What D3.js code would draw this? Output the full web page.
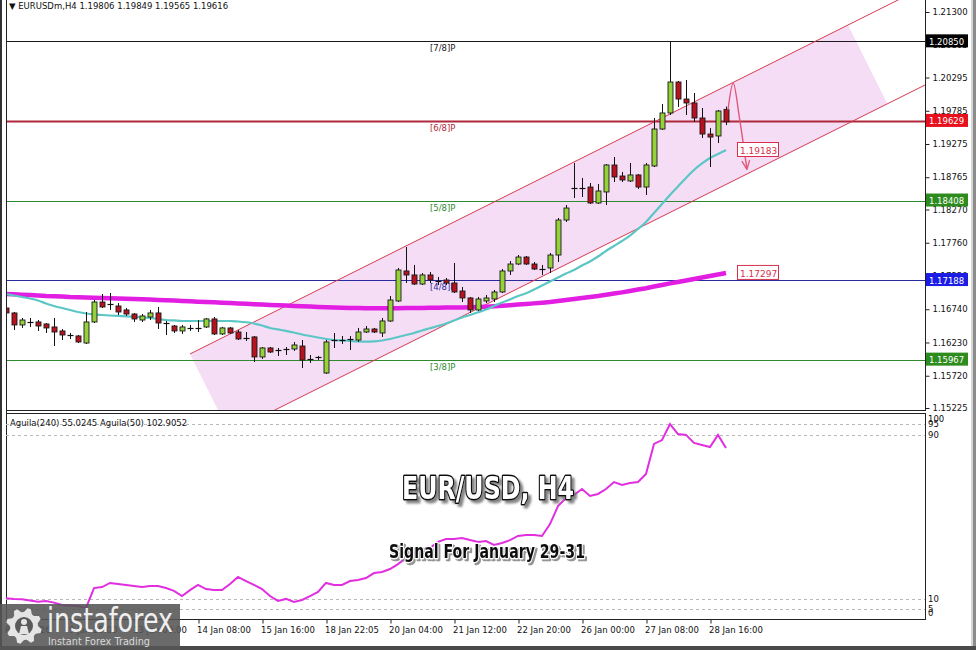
<!DOCTYPE html>
<html>
<head>
<meta charset="utf-8">
<script src="https://cdn.jsdelivr.net/npm/d3@7"></script>
<style>
  body { margin: 0; background: #fff; }
  svg { display: block; }
  text { font-family: "DejaVu Sans", "Liberation Sans", sans-serif; }
</style>
</head>
<body>
<svg id="chart" width="976" height="650"></svg>
<script>
// EURUSDm H4 candles, 8 Jan 12:00 .. 29 Jan 00:00 (one entry per bar)
const opens = [
  1.16759,1.16683,1.16499,1.16529,1.16545,1.16514,1.16468,1.16407,1.16338,1.16330,
  1.16222,1.16545,1.16851,1.16813,1.16790,1.16729,1.16667,1.16575,1.16621,1.16683,
  1.16529,1.16483,1.16407,1.16453,1.16445,1.16468,1.16591,1.16361,1.16453,1.16391,
  1.16299,1.16315,1.16008,1.16146,1.16115,1.16123,1.16130,1.16176,1.15977,1.15977,
  1.15762,1.16253,1.16268,1.16276,1.16268,1.16391,1.16437,1.16376,1.16560,1.16867,
  1.17327,1.17266,1.17127,1.17266,1.17173,1.17189,1.17143,1.17020,1.16913,1.16729,
  1.16867,1.16897,1.17005,1.17327,1.17434,1.17541,1.17434,1.17357,1.17373,1.17572,
  1.18109,1.18600,1.18592,1.18615,1.18370,1.18539,1.18953,1.18784,1.18708,1.18800,
  1.18615,1.18938,1.19505,1.19751,1.20226,1.19965,1.19904,1.19674,1.19428,1.19398,
  1.19806];
const highs = [
  1.16805,1.16698,1.16606,1.16606,1.16575,1.16529,1.16606,1.16437,1.16376,1.16345,
  1.16698,1.16882,1.16974,1.16989,1.16836,1.16759,1.16683,1.16667,1.16729,1.16775,
  1.16560,1.16499,1.16499,1.16499,1.16575,1.16606,1.16621,1.16468,1.16468,1.16422,
  1.16391,1.16330,1.16161,1.16161,1.16146,1.16161,1.16238,1.16268,1.16038,1.16023,
  1.16268,1.16376,1.16330,1.16330,1.16453,1.16483,1.16453,1.16606,1.16943,1.17373,
  1.17695,1.17419,1.17296,1.17311,1.17235,1.17219,1.17450,1.17081,1.16928,1.16928,
  1.16959,1.17035,1.17357,1.17480,1.17572,1.17557,1.17465,1.17419,1.17603,1.18140,
  1.18339,1.18984,1.18754,1.18677,1.18661,1.18968,1.19076,1.18846,1.18984,1.18815,
  1.18984,1.19674,1.19889,1.20850,1.20241,1.20257,1.20057,1.19827,1.19521,1.19797,
  1.19849];
const lows = [
  1.16637,1.16422,1.16453,1.16468,1.16407,1.16376,1.16176,1.16268,1.16284,1.16222,
  1.16207,1.16529,1.16759,1.16729,1.16652,1.16637,1.16545,1.16545,1.16575,1.16437,
  1.16345,1.16376,1.16361,1.16407,1.16391,1.16453,1.16345,1.16345,1.16361,1.16268,
  1.16253,1.15931,1.15977,1.16069,1.16023,1.16038,1.16100,1.15839,1.15916,1.15962,
  1.15747,1.16146,1.16207,1.16115,1.16238,1.16376,1.16376,1.16315,1.16545,1.16851,
  1.17143,1.17112,1.17112,1.17143,1.17112,1.17112,1.16989,1.16851,1.16683,1.16713,
  1.16836,1.16851,1.16989,1.17266,1.17419,1.17419,1.17342,1.17266,1.17296,1.17465,
  1.18079,1.18447,1.18462,1.18355,1.18355,1.18339,1.18692,1.18692,1.18692,1.18585,
  1.18493,1.18922,1.19490,1.19720,1.19843,1.19720,1.19613,1.19367,1.18922,1.19290,
  1.19565];
const closes = [
  1.16683,1.16499,1.16575,1.16545,1.16483,1.16453,1.16391,1.16345,1.16322,1.16238,
  1.16545,1.16851,1.16775,1.16798,1.16698,1.16667,1.16591,1.16637,1.16683,1.16529,
  1.16521,1.16407,1.16468,1.16445,1.16453,1.16591,1.16361,1.16453,1.16376,1.16284,
  1.16291,1.16008,1.16146,1.16084,1.16107,1.16130,1.16192,1.15962,1.15969,1.16000,
  1.16238,1.16261,1.16261,1.16284,1.16391,1.16437,1.16391,1.16560,1.16882,1.17342,
  1.17266,1.17127,1.17266,1.17189,1.17166,1.17143,1.17005,1.16913,1.16729,1.16897,
  1.16913,1.17005,1.17327,1.17434,1.17541,1.17434,1.17357,1.17350,1.17572,1.18109,
  1.18293,1.18592,1.18600,1.18370,1.18554,1.18953,1.18769,1.18723,1.18800,1.18615,
  1.18953,1.19505,1.19751,1.20226,1.19965,1.19904,1.19674,1.19428,1.19382,1.19781,
  1.19616];

// Slow moving average (thick magenta) and fast moving average (turquoise)
const maSlow = [
  1.16974,1.16969,1.16963,1.16959,1.16951,1.16943,1.16939,1.16934,1.16928,1.16925,
  1.16920,1.16917,1.16913,1.16910,1.16905,1.16902,1.16897,1.16893,1.16888,1.16882,
  1.16877,1.16873,1.16867,1.16862,1.16856,1.16851,1.16847,1.16841,1.16836,1.16830,
  1.16824,1.16818,1.16811,1.16805,1.16801,1.16796,1.16790,1.16785,1.16781,1.16775,
  1.16770,1.16765,1.16762,1.16759,1.16758,1.16756,1.16755,1.16755,1.16755,1.16756,
  1.16758,1.16759,1.16761,1.16762,1.16764,1.16765,1.16767,1.16768,1.16772,1.16775,
  1.16779,1.16785,1.16793,1.16802,1.16811,1.16821,1.16830,1.16841,1.16851,1.16867,
  1.16882,1.16897,1.16913,1.16928,1.16943,1.16962,1.16980,1.16999,1.17020,1.17042,
  1.17063,1.17088,1.17112,1.17137,1.17158,1.17181,1.17204,1.17227,1.17250,1.17273,
  1.17297];
const maFast = [
  1.16974,1.16951,1.16928,1.16905,1.16874,1.16828,1.16790,1.16759,1.16729,1.16698,
  1.16675,1.16660,1.16652,1.16644,1.16637,1.16632,1.16626,1.16617,1.16606,1.16591,
  1.16575,1.16568,1.16560,1.16560,1.16560,1.16560,1.16560,1.16560,1.16560,1.16552,
  1.16540,1.16521,1.16491,1.16453,1.16430,1.16407,1.16383,1.16353,1.16330,1.16307,
  1.16284,1.16268,1.16261,1.16253,1.16245,1.16242,1.16248,1.16261,1.16284,1.16315,
  1.16345,1.16376,1.16414,1.16448,1.16483,1.16521,1.16568,1.16613,1.16652,1.16693,
  1.16736,1.16790,1.16844,1.16890,1.16943,1.16985,1.17043,1.17104,1.17166,1.17227,
  1.17289,1.17342,1.17411,1.17473,1.17549,1.17634,1.17710,1.17787,1.17871,1.17971,
  1.18079,1.18217,1.18355,1.18493,1.18623,1.18754,1.18876,1.18976,1.19060,1.19122,
  1.19183];

// Oscillator in the lower window (0..100)
const aguila = [
  10.1,9.8,9.6,9.0,8.4,8.8,8.0,6.8,6.6,6.3,
  5.4,15.1,15.6,17.6,17.1,16.6,16.1,15.6,16.1,16.1,
  15.1,13.7,11.2,14.1,16.6,14.6,14.1,14.1,17.1,20.5,
  18.5,16.6,14.6,11.2,8.8,9.8,8.3,9.3,11.2,13.2,
  17.6,16.6,16.6,18.5,19.0,20.0,22.4,22.9,24.4,26.8,
  29.8,32.2,34.1,34.6,37.6,39.0,39.0,39.5,38.5,37.6,
  38.0,36.1,37.1,38.5,40.5,41.0,41.0,40.5,46.3,55.1,
  59.0,60.5,63.4,60.0,61.0,63.4,66.8,65.4,66.3,66.8,
  70.7,85.4,87.3,95.1,90.2,89.8,85.9,84.9,83.9,89.8,
  83.4];

// Murrey math levels
const levelNames  = ["[7/8]P", "[6/8]P", "[5/8]P", "[4/8]P", "[3/8]P"];
const levelValues = [1.20850, 1.19629, 1.18408, 1.17188, 1.15967];
const levelColors = ["#1a1a1a", "#b0283c", "#2f8a2f", "#2a2aa0", "#2f8a2f"];
const levelBadge  = ["#000000", "#e8101c", "#2e8b1e", "#1c1ce6", "#2e8b1e"];

// Rising channel: two anchors of the upper line, price offset of the lower line
const channelUpper = [[23, 1.16054], [90, 1.20165]];
const channelOffset = 0.01511;
const channelFillEnd = 105.25;

// Projected path for the next bars (start, top, bend, target)
const arrowPath = [[90.25, 1.19797], [90.9, 1.20211], [91.7, 1.19660], [92.6, 1.18900]];

// Axes
const priceTicks = [1.21300, 1.20805, 1.20295, 1.19785, 1.19275, 1.18765, 1.18270,
                    1.17760, 1.17250, 1.16740, 1.16230, 1.15720, 1.15225];
const timeTickIdx = [0, 8, 16, 24, 32, 40, 48, 56, 64, 72, 80, 88];
const timeTickLabels = ["8 Jan 2026", "9 Jan 20:00", "13 Jan 00:00", "14 Jan 08:00",
  "15 Jan 16:00", "18 Jan 22:05", "20 Jan 04:00", "21 Jan 12:00", "22 Jan 20:00",
  "26 Jan 00:00", "27 Jan 08:00", "28 Jan 16:00"];
const oscLevels = [95, 90, 10, 5];
const oscLabels = [100, 95, 90, 10, 5, 0];

const svg = d3.select("#chart");
const plotL = 6, plotR = 925, mainB = 410, indT = 413, indB = 619;

const x = d3.scaleLinear().domain([0, 90]).range([6, 726]);
const y = d3.scaleLinear().domain([1.15225, 1.21300]).range([408, 12]);
const yi = d3.scaleLinear().domain([0, 100]).range([619, 414]);

svg.append("rect").attr("width", 976).attr("height", 650).attr("fill", "#fff");

const defs = svg.append("defs");
defs.append("clipPath").attr("id", "clipMain")
  .append("rect").attr("x", plotL).attr("y", 0).attr("width", plotR - plotL).attr("height", mainB);
defs.append("clipPath").attr("id", "clipInd")
  .append("rect").attr("x", plotL).attr("y", indT).attr("width", plotR - plotL).attr("height", indB - indT);
defs.append("marker").attr("id", "arrowHead").attr("viewBox", "0 0 10 10")
  .attr("refX", 8).attr("refY", 5).attr("markerWidth", 7).attr("markerHeight", 7)
  .attr("orient", "auto-start-reverse")
  .append("path").attr("d", "M0,1 L9,5 L0,9").attr("fill", "none")
  .attr("stroke", "#e0587a").attr("stroke-width", 1.4);
defs.append("filter").attr("id", "shadowBig").attr("x", "-10%").attr("y", "-30%")
  .attr("width", "130%").attr("height", "180%")
  .append("feDropShadow").attr("dx", 3).attr("dy", 3).attr("stdDeviation", 0.8)
  .attr("flood-color", "#6f6f6f").attr("flood-opacity", 0.85);
defs.append("filter").attr("id", "shadowSmall").attr("x", "-10%").attr("y", "-30%")
  .attr("width", "130%").attr("height", "180%")
  .append("feDropShadow").attr("dx", 2).attr("dy", 2).attr("stdDeviation", 0.7)
  .attr("flood-color", "#7a7a7a").attr("flood-opacity", 0.8);

const main = svg.append("g").attr("clip-path", "url(#clipMain)");

// ---- channel fill (parallelogram with ends perpendicular to the channel)
const uA = [x(channelUpper[0][0]), y(channelUpper[0][1])];
const uB = [x(channelUpper[1][0]), y(channelUpper[1][1])];
const slope = (uB[1] - uA[1]) / (uB[0] - uA[0]);
const upperAt = px => uA[1] + slope * (px - uA[0]);
const gap = y(channelUpper[0][1] - channelOffset) - uA[1];
const perp = [-slope * gap / (1 + slope * slope), gap / (1 + slope * slope)];
const fEnd = [x(channelFillEnd), upperAt(x(channelFillEnd))];
main.append("path")
  .attr("d", d3.line()([uA, fEnd, [fEnd[0] + perp[0], fEnd[1] + perp[1]], [uA[0] + perp[0], uA[1] + perp[1]]]) + "Z")
  .attr("fill", "#f5def5");

// ---- level lines
levelValues.forEach((v, i) => {
  main.append("line").attr("x1", plotL).attr("x2", plotR)
    .attr("y1", Math.round(y(v)) + 0.5).attr("y2", Math.round(y(v)) + 0.5)
    .attr("stroke", levelColors[i]).attr("stroke-width", i === 1 ? 2 : 1);
  main.append("text").attr("x", 430).attr("y", y(v) + 10)
    .attr("font-size", 8.5).attr("fill", levelColors[i]).text(levelNames[i]);
});

// ---- channel lines (rays to the right)
const rayEnd = plotR + 40;
main.append("line").attr("x1", uA[0]).attr("y1", uA[1]).attr("x2", rayEnd).attr("y2", upperAt(rayEnd))
  .attr("stroke", "#d23a4e").attr("stroke-width", 1);
main.append("line").attr("x1", uA[0]).attr("y1", uA[1] + gap).attr("x2", rayEnd).attr("y2", upperAt(rayEnd) + gap)
  .attr("stroke", "#d23a4e").attr("stroke-width", 1);

// ---- moving averages
const idx = d3.range(opens.length);
main.append("path").datum(idx)
  .attr("d", d3.line().x(i => x(i)).y(i => y(maSlow[i])))
  .attr("fill", "none").attr("stroke", "#e21ee2").attr("stroke-width", 4.5);
main.append("path").datum(idx)
  .attr("d", d3.line().x(i => x(i)).y(i => y(maFast[i])).curve(d3.curveMonotoneX))
  .attr("fill", "none").attr("stroke", "#5cc6c6").attr("stroke-width", 2.2);

// ---- candles
const bodyW = 5;
const cg = main.append("g");
idx.forEach(i => {
  const cx = Math.round(x(i)) + 0.5;
  const up = closes[i] >= opens[i];
  cg.append("line").attr("x1", cx).attr("x2", cx)
    .attr("y1", y(highs[i])).attr("y2", y(lows[i]))
    .attr("stroke", "#111").attr("stroke-width", 1);
  const top = y(Math.max(opens[i], closes[i]));
  const bot = y(Math.min(opens[i], closes[i]));
  if (bot - top < 1.6) {
    cg.append("line").attr("x1", cx - 3).attr("x2", cx + 3)
      .attr("y1", Math.round(top) + 0.5).attr("y2", Math.round(top) + 0.5)
      .attr("stroke", "#111").attr("stroke-width", 1.2);
  } else {
    cg.append("rect").attr("x", cx - bodyW / 2).attr("y", top)
      .attr("width", bodyW).attr("height", bot - top)
      .attr("fill", up ? "#94d13a" : "#b8121f")
      .attr("stroke", "#1a1a1a").attr("stroke-width", 0.9);
  }
});

// ---- projected path
main.append("path").datum(arrowPath)
  .attr("d", d3.line().x(d => x(d[0])).y(d => y(d[1])).curve(d3.curveCatmullRom.alpha(0.5)))
  .attr("fill", "none").attr("stroke", "#e0587a").attr("stroke-width", 1.4)
  .attr("marker-end", "url(#arrowHead)");

// ---- value tags at the end of the averages
[[maFast[90], "#d8304c"], [maSlow[90], "#d8304c"]].forEach(([v, c]) => {
  const ty = y(v);
  main.append("rect").attr("x", 737.5).attr("y", ty - 7.5).attr("width", 41).attr("height", 14)
    .attr("fill", "#fff").attr("stroke", c).attr("stroke-width", 1);
  main.append("text").attr("x", 740).attr("y", ty + 4).attr("font-size", 9)
    .attr("fill", c).text(d3.format(".5f")(v));
});

// ---- header
svg.append("text").attr("x", 9).attr("y", 9).attr("font-size", 8.5).attr("fill", "#111")
  .text("\u25BC EURUSDm,H4  1.19806 1.19849 1.19565 1.19616");

// ---- frames
const frame = svg.append("g").attr("stroke", "#222").attr("fill", "none");
frame.append("line").attr("x1", plotL + 0.5).attr("x2", plotL + 0.5).attr("y1", 0).attr("y2", indB);
frame.append("line").attr("x1", plotR + 0.5).attr("x2", plotR + 0.5).attr("y1", 0).attr("y2", mainB);
frame.append("line").attr("x1", plotL).attr("x2", plotR + 1).attr("y1", mainB + 0.5).attr("y2", mainB + 0.5);
frame.append("rect").attr("x", plotL + 0.5).attr("y", indT + 0.5).attr("width", plotR - plotL).attr("height", indB - indT);

// ---- price axis
const yAxis = d3.axisRight(y).tickValues(priceTicks).tickFormat(d3.format(".5f")).tickSize(4).tickPadding(3);
const ya = svg.append("g").attr("transform", `translate(${plotR + 0.5},0)`).call(yAxis);
ya.select(".domain").remove();
ya.selectAll("line").attr("stroke", "#222");
ya.selectAll("text").attr("font-size", 8.5).attr("fill", "#111")
  .attr("font-family", "DejaVu Sans, sans-serif");

// level badges on the price axis
levelValues.forEach((v, i) => {
  const by = y(v);
  svg.append("rect").attr("x", 926).attr("y", by - 7).attr("width", 42).attr("height", 13)
    .attr("fill", levelBadge[i]);
  svg.append("text").attr("x", 929).attr("y", by + 3.5).attr("font-size", 8.5)
    .attr("fill", "#fff").text(d3.format(".5f")(v));
});

// ---- oscillator window
const ind = svg.append("g").attr("clip-path", "url(#clipInd)");
oscLevels.forEach(v => {
  ind.append("line").attr("x1", plotL).attr("x2", plotR)
    .attr("y1", Math.round(yi(v)) + 0.5).attr("y2", Math.round(yi(v)) + 0.5)
    .attr("stroke", "#b8b8b8").attr("stroke-dasharray", "3,3");
});
ind.append("path").datum(idx)
  .attr("d", d3.line().x(i => x(i)).y(i => yi(aguila[i])))
  .attr("fill", "none").attr("stroke", "#e02ee0").attr("stroke-width", 2);
svg.append("text").attr("x", 10).attr("y", 426).attr("font-size", 8.5).attr("fill", "#111")
  .text("Aguila(240) 55.0245  Aguila(50) 102.9052");
oscLabels.forEach(v => {
  const ly = Math.min(Math.max(yi(v), 419), 613);
  svg.append("text").attr("x", 928).attr("y", ly + 3).attr("font-size", 8.5)
    .attr("font-family", "Liberation Serif, serif").attr("fill", "#111").text(v);
});

// ---- time axis
const xAxis = d3.axisBottom(x).tickValues(timeTickIdx)
  .tickFormat((d, i) => timeTickLabels[i]).tickSize(4).tickPadding(3);
const xa = svg.append("g").attr("transform", `translate(0.5,${indB + 0.5})`).call(xAxis);
xa.select(".domain").remove();
xa.selectAll("line").attr("stroke", "#222");
xa.selectAll("text").attr("text-anchor", "start").attr("dx", -2).attr("font-size", 8.5)
  .attr("fill", "#111").attr("font-family", "DejaVu Sans, sans-serif");

// ---- titles (outlined text with a drop shadow)
function outlined(txt, cx, by, size, len, fill, stroke, sw, filterId) {
  svg.append("text").attr("x", cx).attr("y", by).attr("text-anchor", "middle")
    .attr("font-size", size).attr("font-weight", "bold")
    .attr("font-family", "Liberation Sans Narrow, DejaVu Sans Condensed, Arial Narrow, sans-serif")
    .attr("textLength", len).attr("lengthAdjust", "spacingAndGlyphs")
    .attr("fill", fill).attr("stroke", stroke).attr("stroke-width", sw)
    .attr("paint-order", "stroke").attr("stroke-linejoin", "round")
    .attr("filter", `url(#${filterId})`).text(txt);
}
outlined("EUR/USD, H4", 488, 499, 32, 172, "#ffffff", "#111111", 3, "shadowBig");
outlined("Signal For January 29-31", 487, 558, 19, 196, "#111111", "#ffffff", 2.5, "shadowSmall");

// ---- window edges
svg.append("rect").attr("x", 0).attr("y", 0).attr("width", 2).attr("height", 650).attr("fill", "#333");
svg.append("rect").attr("x", 971).attr("y", 0).attr("width", 2).attr("height", 650).attr("fill", "#d6d6d6");
svg.append("rect").attr("x", 973).attr("y", 0).attr("width", 3).attr("height", 650).attr("fill", "#8c8c8c");
svg.append("rect").attr("x", 0).attr("y", 646).attr("width", 976).attr("height", 4).attr("fill", "#4a4a4a");

// ---- brand badge
const logo = svg.append("g");
logo.append("rect").attr("x", 0).attr("y", 604).attr("width", 180).attr("height", 46)
  .attr("fill", "#555").attr("opacity", 0.88);
const gc = [24, 626], teeth = 8;
const gearPts = [];
for (let k = 0; k < teeth * 4; k++) {
  const a = (k / (teeth * 4)) * Math.PI * 2;
  const r = (k % 4 === 1 || k % 4 === 2) ? 18 : 14;
  gearPts.push([gc[0] + r * Math.cos(a), gc[1] + r * Math.sin(a)]);
}
logo.append("path").attr("d", d3.line()(gearPts) + "Z").attr("fill", "#e4e4e4");
logo.append("circle").attr("cx", gc[0]).attr("cy", gc[1]).attr("r", 9).attr("fill", "#5a5a5a");
logo.append("circle").attr("cx", gc[0]).attr("cy", gc[1] - 4).attr("r", 3).attr("fill", "#e4e4e4");
logo.append("path").attr("d", `M${gc[0] - 5},${gc[1] + 8} L${gc[0] - 3},${gc[1]} L${gc[0] + 3},${gc[1]} L${gc[0] + 5},${gc[1] + 8}Z`)
  .attr("fill", "#e4e4e4");
logo.append("text").attr("x", 47).attr("y", 632).attr("font-size", 33)
  .attr("font-family", "Open Sans, Lato, sans-serif").attr("fill", "#efefef")
  .attr("textLength", 126).attr("lengthAdjust", "spacingAndGlyphs").text("instaforex");
logo.append("text").attr("x", 48).attr("y", 645).attr("font-size", 10)
  .attr("font-family", "Open Sans, Lato, sans-serif").attr("fill", "#d8d8d8")
  .attr("textLength", 102).attr("lengthAdjust", "spacingAndGlyphs").text("Instant Forex Trading");
</script>
</body>
</html>
